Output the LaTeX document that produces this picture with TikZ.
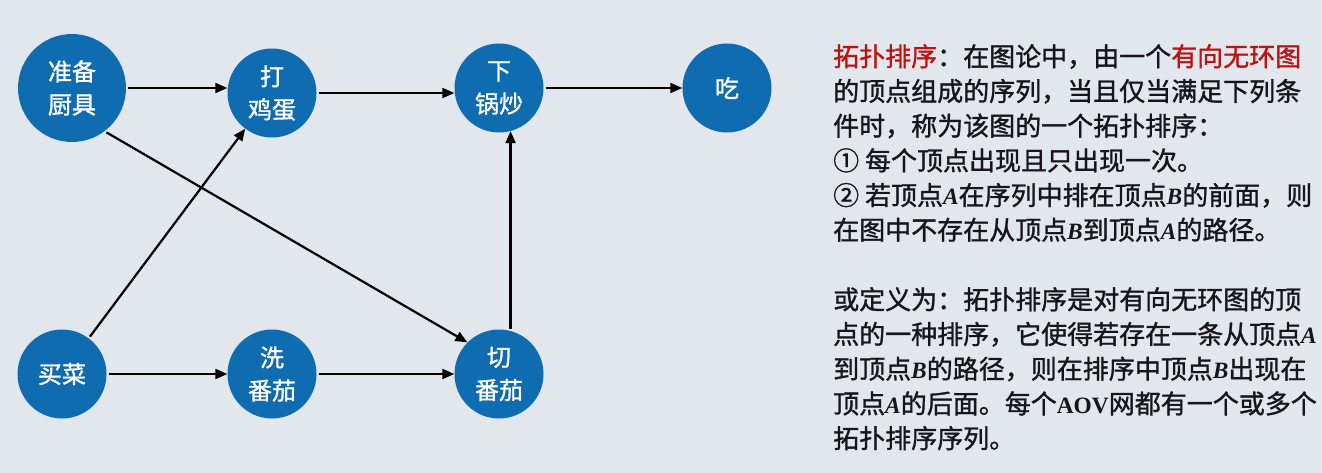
\documentclass[tikz,border=0pt]{standalone}
\usepackage{fontspec}
\setmainfont{Noto Sans CJK SC}[FakeBold=1.2]
\newfontfamily\latserif{Liberation Serif}[Scale=0.9]
\usetikzlibrary{arrows.meta}
\definecolor{vtxblue}{RGB}{16,108,176}
\definecolor{bgpale}{RGB}{226,231,238}
\definecolor{termred}{RGB}{190,18,18}
\definecolor{bodyink}{RGB}{22,22,26}
\newcommand\vtx[1]{{\latserif\bfseries\itshape #1}}

\begin{document}
\begin{tikzpicture}[x=1pt, y=-1pt,
    task/.style={circle, fill=vtxblue, text=white, align=center, minimum size=89pt, inner sep=0pt, font=\fontsize{24}{33}\selectfont},
    link/.style={-{Triangle[length=12pt,width=10pt]}, line width=2.2pt, shorten <=2pt},
    note/.style={anchor=north west, inner sep=0pt, align=left, text=bodyink, font=\fontsize{26}{34.7}\selectfont}
]
\fill[bgpale] (0,0) rectangle (1322,473);
\useasboundingbox (0,0) rectangle (1322,473);
% tasks
\node[task, minimum size=108pt] (prep) at (72,88) {准备\\厨具};
\node[task] (egg) at (272,93) {打\\鸡蛋};
\node[task] (fry) at (499,88) {下\\锅炒};
\node[task] (eat) at (727,88) {吃};
\node[task] (buy) at (62,374) {买菜};
\node[task] (wash) at (272,374) {洗\\番茄};
\node[task] (cut) at (499,374) {切\\番茄};
% order
\draw[link] (prep.east) -- (prep.east -| egg.west);
\draw[link] (egg.east) -- (egg.east -| fry.west);
\draw[link] (fry) -- (eat);
\draw[link] (buy) -- (wash);
\draw[link] (wash) -- (cut);
\draw[link] (buy) -- (egg);
\draw[link] (prep.-53) -- (cut.135);
\draw[link] (cut.75) -- (fry.285);
% definition
\node[note] (def) at (833,44) {{\color{termred}拓扑排序}：在图论中，由一个{\color{termred}有向无环图}\\
的顶点组成的序列，当且仅当满足下列条\\
件时，称为该图的一个拓扑排序：\\
① 每个顶点出现且只出现一次。\\
② 若顶点\vtx{A}在序列中排在顶点\vtx{B}的前面，则\\
在图中不存在从顶点\vtx{B}到顶点\vtx{A}的路径。};
\node[note] (alt) at (833,287) {或定义为：拓扑排序是对有向无环图的顶\\
点的一种排序，它使得若存在一条从顶点\vtx{A}\\
到顶点\vtx{B}的路径，则在排序中顶点\vtx{B}出现在\\
顶点\vtx{A}的后面。每个{\latserif\bfseries AOV}网都有一个或多个\\
拓扑排序序列。};
\end{tikzpicture}
\end{document}
